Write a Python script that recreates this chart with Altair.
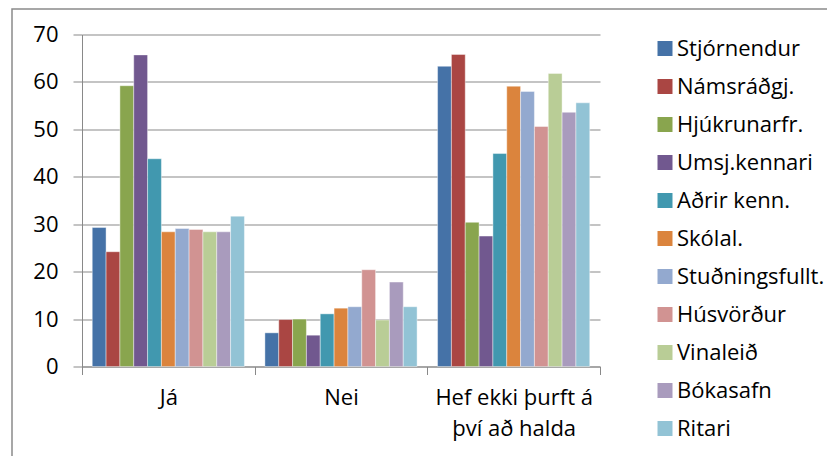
import altair as alt
import pandas as pd

categories = ["Já", "Nei", "Hef ekki þurft á því að halda"]
series = ["Stjórnendur", "Námsráðgj.", "Hjúkrunarfr.", "Umsj.kennari", "Aðrir kenn.",
          "Skólal.", "Stuðningsfullt.", "Húsvörður", "Vinaleið", "Bókasafn", "Ritari"]
colors = ["#4572A7", "#AA4643", "#89A54E", "#71588F", "#4198AF", "#DB843D",
          "#93A9CF", "#D19392", "#B9CD96", "#A99BBD", "#92C3D5"]

ja = [29.3, 24.2, 59.2, 65.7, 43.8, 28.4, 29.1, 28.9, 28.4, 28.4, 31.7]
nei = [7.1, 9.9, 10.0, 6.6, 11.1, 12.3, 12.6, 20.4, 9.8, 17.8, 12.6]
hef = [63.3, 65.8, 30.4, 27.5, 44.9, 59.1, 58.0, 50.6, 61.8, 53.6, 55.6]

rows = []
for cat, vals in zip(categories, [ja, nei, hef]):
    for s, v in zip(series, vals):
        rows.append({"flokkur": cat, "hópur": s, "gildi": v})
df = pd.DataFrame(rows)

FONT = "Open Sans"
FS = 22

bars = alt.Chart(df).mark_bar(stroke="white", strokeWidth=0.6, strokeOpacity=0.7).encode(
    x=alt.X("flokkur:N", sort=categories, title=None,
            scale=alt.Scale(paddingInner=0, paddingOuter=0),
            axis=alt.Axis(labelAngle=0, tickBand="extent", tickSize=8, tickColor="#898989",
                          domainColor="#898989", labelColor="#000000", labelFontSize=FS,
                          labelFont=FONT, labelPadding=13, labelLineHeight=31,
                          labelExpr="datum.value == 'Hef ekki þurft á því að halda' ? ['Hef ekki þurft á', 'því að halda'] : datum.label")),
    xOffset=alt.XOffset("hópur:N", sort=series,
                        scale=alt.Scale(paddingOuter=0.74, paddingInner=0)),
    y=alt.Y("gildi:Q", title=None,
            scale=alt.Scale(domain=[0, 70], nice=False),
            axis=alt.Axis(values=[0, 10, 20, 30, 40, 50, 60, 70], tickSize=9,
                          tickColor="#898989", domainColor="#898989", gridColor="#898989",
                          grid=True, labelColor="#000000", labelFontSize=FS, labelFont=FONT,
                          labelPadding=15)),
    color=alt.Color("hópur:N", sort=series,
                    scale=alt.Scale(domain=series, range=colors),
                    legend=alt.Legend(title=None, orient="none", legendX=572, legendY=3,
                                      symbolType="square", symbolSize=225, symbolStrokeWidth=0,
                                      labelFontSize=FS, labelFont=FONT, labelColor="#000000",
                                      labelOffset=1, rowPadding=16, labelLimit=300)),
)

border = alt.Chart(pd.DataFrame({"a": [0]})).mark_rect(
    fill=None, stroke="#8a8a8a", strokeWidth=1.5).encode(
    x=alt.value(-70), x2=alt.value(760), y=alt.value(-25.5), y2=alt.value(460))

chart = alt.layer(border, bars).properties(
    width=518, height=332,
    autosize=alt.AutoSizeParams(type="none"),
    padding={"left": 74, "top": 26.5, "right": 227, "bottom": 89.5},
).configure_view(stroke=None)

chart.save("out.html", embed_options={"renderer": "svg", "actions": False})
